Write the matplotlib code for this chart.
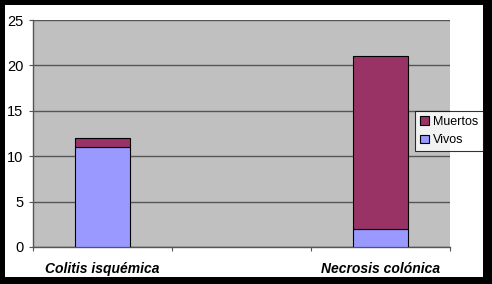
import matplotlib
matplotlib.use("Agg")
import matplotlib.pyplot as plt
from matplotlib.patches import Rectangle
import numpy as np

categories = ["Colitis isquémica", "", "Necrosis colónica"]
vivos = [11, 0, 2]
muertos = [1, 0, 19]

plt.rcParams['font.family'] = ['Liberation Sans', 'DejaVu Sans']

fig = plt.figure(figsize=(4.92, 2.84), dpi=100)
fig.patch.set_facecolor('black')
# white inner panel
fig.patches.append(Rectangle((5 / 492, 1 - 277 / 284), 478 / 492, 272 / 284,
                             transform=fig.transFigure, facecolor='white',
                             edgecolor='none', zorder=-10))

ax = fig.add_axes([33 / 492, 1 - 247 / 284, 417 / 492, 227 / 284])
ax.set_facecolor('#c0c0c0')

x = np.arange(len(categories))
lw = [0.8 if v > 0 else 0 for v in vivos]
lm = [0.8 if v > 0 else 0 for v in muertos]
ax.bar(x, vivos, width=0.4, color='#9999ff', edgecolor='black', linewidth=lw,
       label='Vivos', zorder=3)
ax.bar(x, muertos, width=0.4, bottom=vivos, color='#993366', edgecolor='black',
       linewidth=lm, label='Muertos', zorder=3)

ax.set_xlim(-0.5, 2.5)
ax.set_ylim(0, 25)
ax.set_yticks([0, 5, 10, 15, 20, 25])
ax.yaxis.grid(True, color='#555555', linewidth=1.0, zorder=1)
ax.set_axisbelow(True)

ax.set_xticks([-0.5, 0.5, 1.5, 2.5])
ax.set_xticklabels([])
ax.set_xticks(x, minor=True)
ax.set_xticklabels(categories, minor=True, fontsize=10, fontweight='bold',
                   fontstyle='italic')
ax.tick_params(axis='x', which='minor', length=0, pad=11)
ax.tick_params(axis='x', which='major', length=3, color='#555555', direction='out')
ax.tick_params(axis='y', length=3, color='#555555', labelsize=10.5, pad=4)

for s in ['top', 'right']:
    ax.spines[s].set_visible(False)
for s in ['left', 'bottom']:
    ax.spines[s].set_color('#555555')
    ax.spines[s].set_linewidth(1.0)

handles, labels = ax.get_legend_handles_labels()
leg = fig.legend(handles[::-1], labels[::-1], loc='upper left',
                 bbox_to_anchor=(415 / 492, 1 - 111 / 284), fontsize=9,
                 frameon=True, fancybox=False, edgecolor='black',
                 handlelength=0.7, handleheight=0.7, handletextpad=0.3,
                 borderpad=0.4, labelspacing=0.5, borderaxespad=0)
leg.get_frame().set_linewidth(0.8)

fig.savefig('out.png', dpi=100, facecolor='black')
